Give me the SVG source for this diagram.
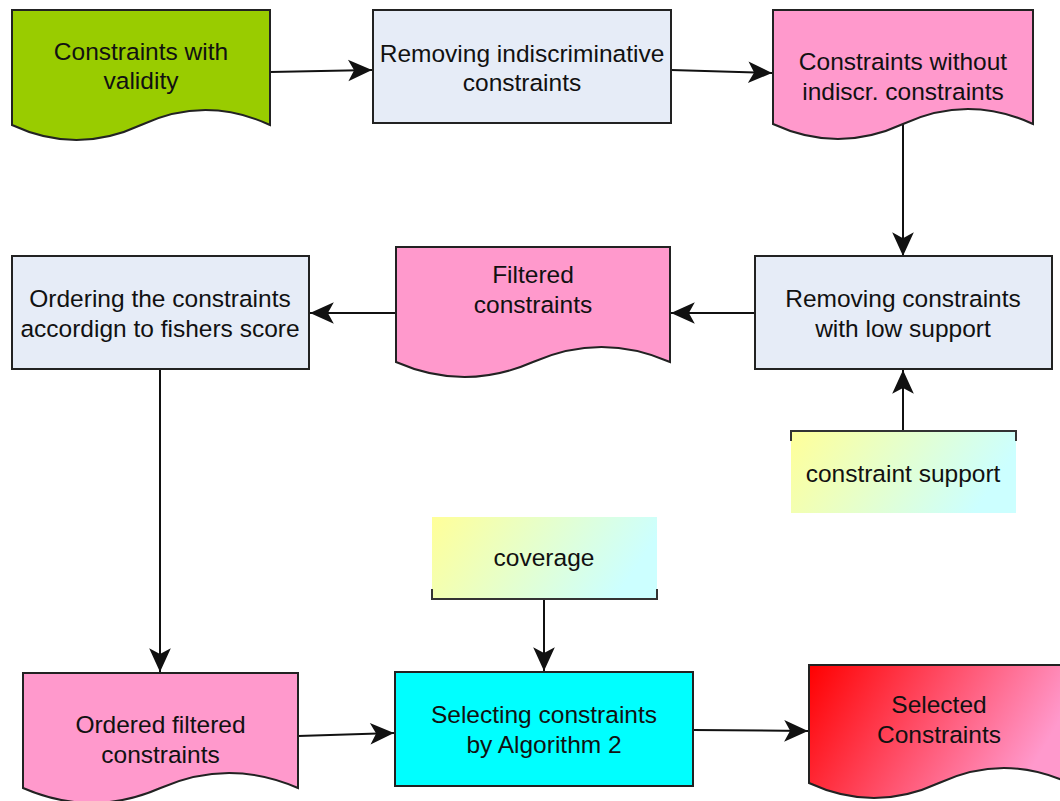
<svg xmlns="http://www.w3.org/2000/svg" width="1060" height="801" viewBox="0 0 1060 801">
  <style>
    .shape { stroke: #222; stroke-width: 2; }
    .proc { fill: #E6ECF7; }
    .doc-pink { fill: #FF99CC; }
    .label { font-family: "Liberation Sans", Arial, sans-serif; font-size: 24.5px; fill: #111; text-anchor: middle; }
    .edge { fill: none; stroke: #111; stroke-width: 2; }
    .bracket { fill: none; stroke: #333; stroke-width: 2; }
  </style>
  <defs>
    <marker id="arrow" markerUnits="userSpaceOnUse" markerWidth="26" markerHeight="24" viewBox="-23 -11 24 22" refX="0" refY="0" orient="auto">
      <path d="M0,0 L-22,-10 L-16.5,0 L-22,10 Z" fill="#111"/>
    </marker>
    <linearGradient id="noteGrad" x1="0" y1="0" x2="1" y2="0.25">
      <stop offset="0" stop-color="#FFFF99"/>
      <stop offset="1" stop-color="#CCFFFF"/>
    </linearGradient>
    <linearGradient id="redGrad" x1="0" y1="0" x2="1" y2="0.3">
      <stop offset="0" stop-color="#FF0000"/>
      <stop offset="1" stop-color="#FF99CC"/>
    </linearGradient>
  </defs>

  <rect width="1060" height="801" fill="#FFFFFF"/>

  <!-- connectors -->
  <g id="connectors">
    <path class="edge" d="M270,72 L372,70" marker-end="url(#arrow)"/>
    <path class="edge" d="M671,70 L772,73" marker-end="url(#arrow)"/>
    <path class="edge" d="M903,124 L903,256" marker-end="url(#arrow)"/>
    <path class="edge" d="M903,431 L903,370" marker-end="url(#arrow)"/>
    <path class="edge" d="M755,313 L671,313" marker-end="url(#arrow)"/>
    <path class="edge" d="M396,313 L310,313" marker-end="url(#arrow)"/>
    <path class="edge" d="M160,369 L160,672" marker-end="url(#arrow)"/>
    <path class="edge" d="M298,736 L394,733" marker-end="url(#arrow)"/>
    <path class="edge" d="M544,599 L544,671" marker-end="url(#arrow)"/>
    <path class="edge" d="M693,730 L808,731" marker-end="url(#arrow)"/>
  </g>

  <!-- document: constraints with validity -->
  <g id="doc-validity">
    <path class="shape" fill="#99CC00" d="M12,10 H270 V125 Q205.5,95 141,125 Q76.5,155 12,125 Z"/>
    <text class="label" x="141" y="60">Constraints with</text>
    <text class="label" x="141" y="89">validity</text>
  </g>

  <!-- process: removing indiscriminative constraints -->
  <g id="proc-indiscr">
    <rect class="shape proc" x="373" y="10" width="298" height="113"/>
    <text class="label" x="522" y="62">Removing indiscriminative</text>
    <text class="label" x="522" y="91">constraints</text>
  </g>

  <!-- document: constraints without indiscr. constraints -->
  <g id="doc-without">
    <path class="shape doc-pink" d="M773,10 H1033 V124 Q968,94 903,124 Q838,154 773,124 Z"/>
    <text class="label" x="903" y="70">Constraints without</text>
    <text class="label" x="903" y="100">indiscr. constraints</text>
  </g>

  <!-- process: removing constraints with low support -->
  <g id="proc-support">
    <rect class="shape proc" x="755" y="256" width="297" height="113"/>
    <text class="label" x="903" y="307">Removing constraints</text>
    <text class="label" x="903" y="337">with low support</text>
  </g>

  <!-- annotation: constraint support -->
  <g id="note-support">
    <rect x="791" y="431" width="225" height="82" fill="url(#noteGrad)"/>
    <path class="bracket" d="M791,441 V431 H1016 V441"/>
    <text class="label" x="903" y="482">constraint support</text>
  </g>

  <!-- document: filtered constraints -->
  <g id="doc-filtered">
    <path class="shape doc-pink" d="M396,247 H670 V362 Q601.5,332 533,362 Q464.5,392 396,362 Z"/>
    <text class="label" x="533" y="283">Filtered</text>
    <text class="label" x="533" y="313">constraints</text>
  </g>

  <!-- process: ordering by fisher score -->
  <g id="proc-ordering">
    <rect class="shape proc" x="12" y="256" width="297" height="113"/>
    <text class="label" x="160" y="307">Ordering the constraints</text>
    <text class="label" x="160" y="337">accordign to fishers score</text>
  </g>

  <!-- document: ordered filtered constraints -->
  <g id="doc-ordered">
    <path class="shape doc-pink" d="M23,673 H298 V788 Q229,758 160.5,788 Q92,818 23,788 Z"/>
    <text class="label" x="160.5" y="733">Ordered filtered</text>
    <text class="label" x="160.5" y="763">constraints</text>
  </g>

  <!-- annotation: coverage -->
  <g id="note-coverage">
    <rect x="432" y="517" width="225" height="82" fill="url(#noteGrad)"/>
    <path class="bracket" d="M432,589 V599 H657 V589"/>
    <text class="label" x="544" y="566">coverage</text>
  </g>

  <!-- process: selecting constraints by algorithm 2 -->
  <g id="proc-select">
    <rect class="shape" fill="#00FFFF" x="395" y="672" width="298" height="114"/>
    <text class="label" x="544" y="723">Selecting constraints</text>
    <text class="label" x="544" y="753">by Algorithm 2</text>
  </g>

  <!-- document: selected constraints -->
  <g id="doc-selected">
    <path class="shape" fill="url(#redGrad)" d="M809,665 H1069 V783 Q1004,753 939,783 Q874,813 809,783 Z"/>
    <text class="label" x="939" y="713">Selected</text>
    <text class="label" x="939" y="743">Constraints</text>
  </g>
</svg>
